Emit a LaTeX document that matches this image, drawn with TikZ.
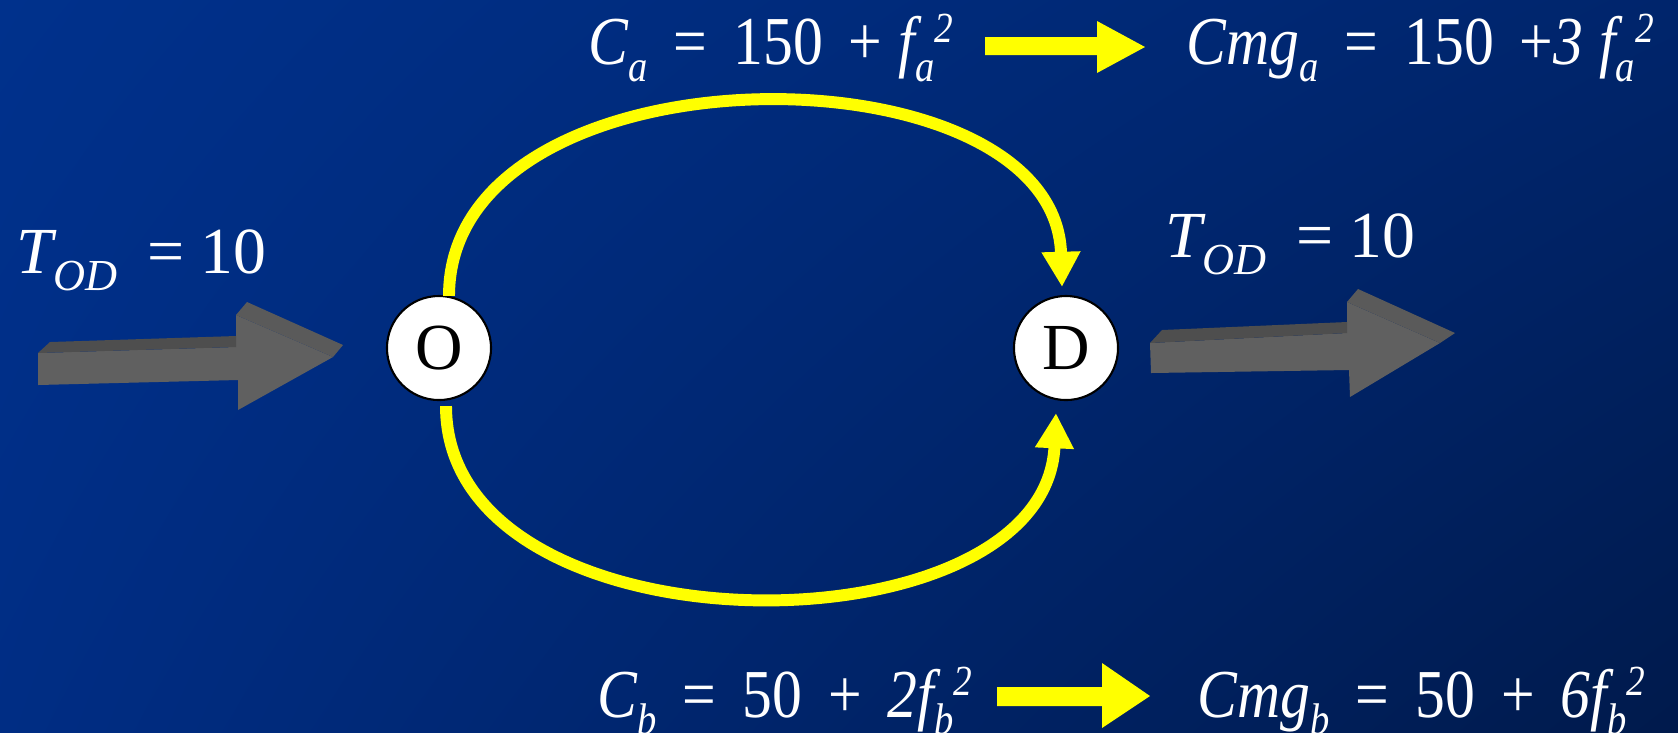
\documentclass[tikz,border=0pt]{standalone}
\usepackage{fontspec}
\setmainfont{Liberation Serif}
\newfontfamily\narrowserif{Liberation Serif}[FakeStretch=0.87]
\usetikzlibrary{arrows.meta,calc,shadings}
\newlength{\px}\setlength{\px}{0.28453pt}
\definecolor{yel}{RGB}{255,255,0}
\definecolor{bgUL}{RGB}{0,49,140}
\definecolor{bgUR}{RGB}{0,37,108}
\definecolor{bgLL}{RGB}{0,45,132}
\definecolor{bgLR}{RGB}{0,26,76}
\definecolor{grayfront}{RGB}{96,96,96}
\definecolor{graytop}{RGB}{78,78,78}
\definecolor{grayhead}{RGB}{90,90,90}
\newcommand{\sbx}[1]{\raisebox{-17\px}{\fontsize{12.6pt}{13pt}\selectfont\itshape #1}}
\newcommand{\spx}[1]{\raisebox{22\px}{\fontsize{12.2pt}{13pt}\selectfont\itshape #1}}
\newcommand{\gp}{\hspace{26\px}}
\newcommand{\gq}{\hspace{16\px}}
\tikzset{
  formula/.style={anchor=base west, inner sep=0pt, text=white, font=\fontsize{18.7pt}{22pt}\selectfont},
  eqn/.style={formula, font=\narrowserif\fontsize{19.5pt}{22pt}\selectfont},
  place/.style={circle, draw=black, line width=0.6pt, fill=white, minimum size=1.04cm, inner sep=0pt, font=\fontsize{18.7pt}{22pt}\selectfont},
  route/.style={draw=yel, line width=3.4pt, -{Triangle[width=10.4pt,length=10pt]}},
  blockarrow/.style={fill=yel},
  boxfront/.style={fill=grayfront},
  boxtop/.style={fill=graytop},
  boxhead/.style={fill=grayhead}
}
\begin{document}
\begin{tikzpicture}[x=0.01cm,y=-0.01cm]
\useasboundingbox (0,0) rectangle (1678,732);
\shade[upper left=bgUL, upper right=bgUR, lower left=bgLL, lower right=bgLR] (0,0) rectangle (1678,732);

% gray 3D arrows
\fill[boxfront] (38,353) -- (236,347) -- (236,315) -- (333,357) -- (238,410) -- (238,380) -- (38,385) -- cycle;
\fill[boxtop] (38,353) -- (50,342) -- (236,336) -- (236,347) -- cycle;
\fill[boxhead] (236,315) -- (247,302) -- (343,345) -- (333,357) -- cycle;

\fill[boxfront] (1150,343) -- (1347,333) -- (1347,302) -- (1440,343) -- (1350,397) -- (1349,370) -- (1151,373) -- cycle;
\fill[boxtop] (1150,343) -- (1162,330) -- (1347,322) -- (1347,333) -- cycle;
\fill[boxhead] (1347,302) -- (1358,289) -- (1455,333) -- (1440,343) -- cycle;

% nodes
\node[place] (O) at (439,348) {O};
\node[place] (D) at (1066,348) {D};

% routes
\draw[route] ($(O.north)+(10,1)$) .. controls ($(O.north)+(10,-254)$) and ($(D.north)+(-11,-254)$) .. ($(D.north)+(-4,-8)$);
\draw[route] ($(O.south)+(7,5)$) .. controls ($(O.south)+(7,257)$) and ($(D.south)+(-21,257)$) .. ($(D.south)+(-10,12)$);

% labels
\node[formula] (tl) at (16,273) {{\itshape T}\sbx{OD}\hspace{30\px}= 10};
\node[formula] (tr) at (1165,257) {{\itshape T}\sbx{OD}\hspace{30\px}= 10};

\node[eqn] (ca) at (588,64) {{\itshape C}\sbx{a}\gp=\gp150\gp+\gq{\itshape f}\sbx{a}\spx{2}};
\node[eqn] (cma) at (1186,64) {{\itshape Cmg}\sbx{a}\gp=\gp150\gp+{\itshape 3}\gq{\itshape f}\sbx{a}\spx{2}};
\node[eqn] (cb) at (597,717) {{\itshape C}\sbx{b}\gp=\gp50\gp+\gp{\itshape 2f}\sbx{b}\spx{2}};
\node[eqn] (cmb) at (1197,717) {{\itshape Cmg}\sbx{b}\gp=\gp50\gp+\gp{\itshape 6f}\sbx{b}\spx{2}};

% yellow block arrows
\fill[blockarrow] (985,37) -- (1097,37) -- (1097,21) -- (1145,47) -- (1097,73) -- (1097,55) -- (985,55) -- cycle;
\fill[blockarrow] (997,687) -- (1102,687) -- (1102,663) -- (1150,696) -- (1102,728) -- (1102,706) -- (997,706) -- cycle;
\end{tikzpicture}
\end{document}
